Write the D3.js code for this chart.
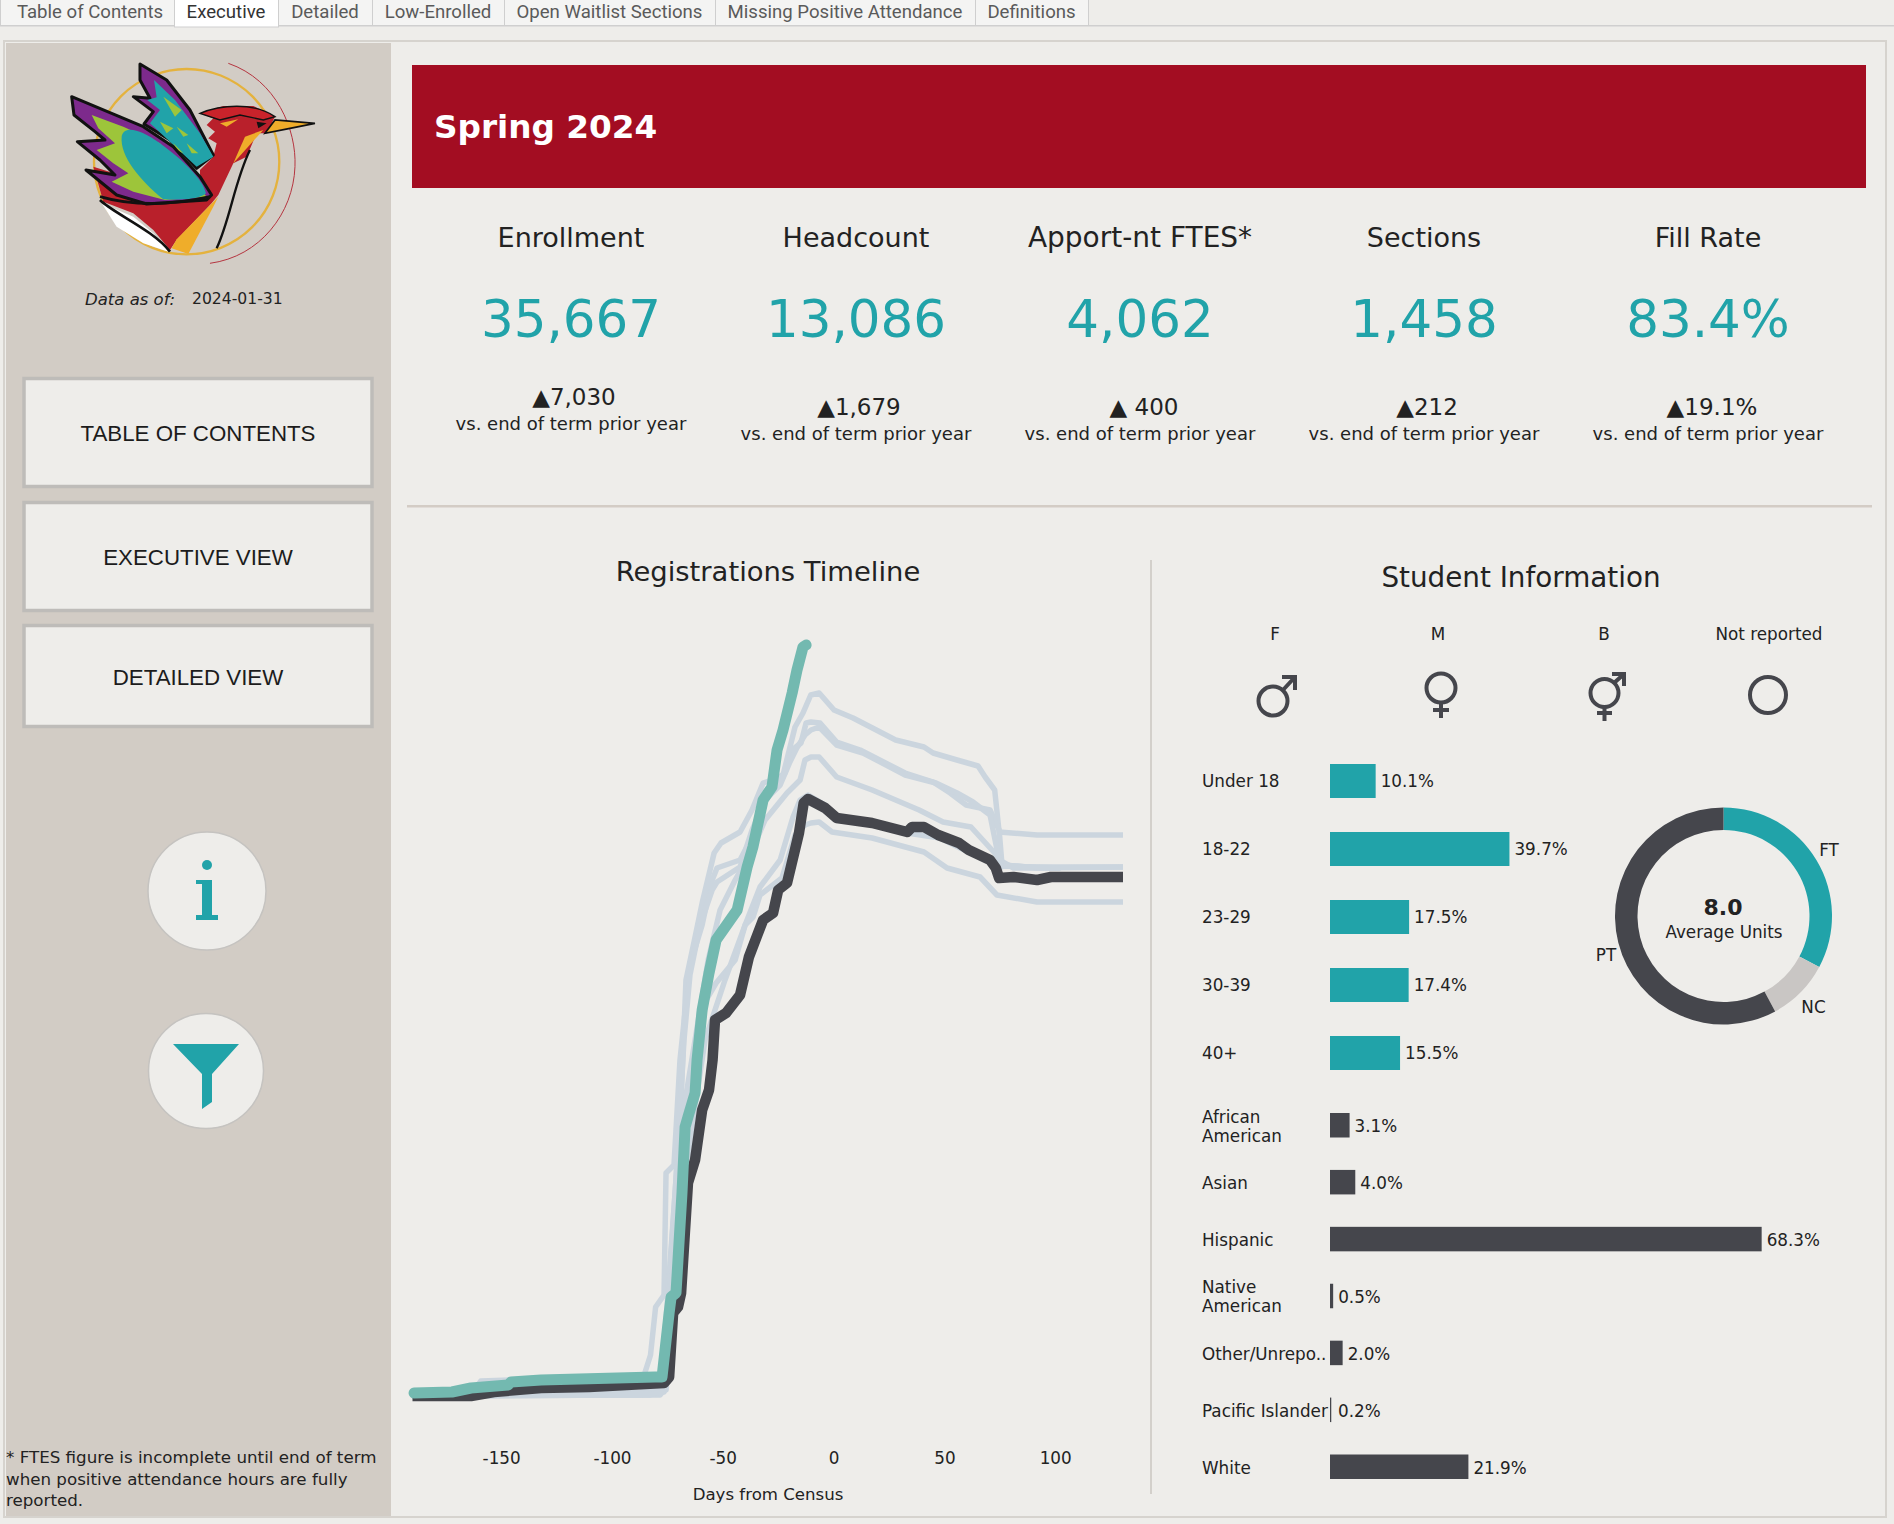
<!doctype html>
<html lang="en">
<head>
<meta charset="UTF-8">
<title>Spring 2024 Executive</title>
<style>
  body { margin: 0; background: #eeedea; }
  svg { display: block; }
  text { font-family: "DejaVu Sans", Verdana, sans-serif; fill: #222; dominant-baseline: central; }
  .tab { font-family: Roboto, sans-serif; font-size: 18.6px; fill: #5a5a5a; text-anchor: middle; }
  .btn { font-family: "Liberation Sans", Arial, sans-serif; font-size: 22.3px; fill: #1c1c1c; text-anchor: middle; }
  .lbl { font-size: 16.8px; }
  .tick text { font-family: "DejaVu Sans", Verdana, sans-serif; font-size: 16.8px; fill: #222; dominant-baseline: auto; }
</style>
</head>
<body>
<svg id="board" width="1894" height="1524"></svg>
<script src="https://d3js.org/d3.v7.min.js"></script>
<script>
var tabNames = ["Table of Contents", "Executive", "Detailed", "Low-Enrolled", "Open Waitlist Sections", "Missing Positive Attendance", "Definitions"];
var navNames = ["TABLE OF CONTENTS", "EXECUTIVE VIEW", "DETAILED VIEW"];
var footnote = ["* FTES figure is incomplete until end of term", "when positive attendance hours are fully", "reported."];

var kpiNames = ["Enrollment", "Headcount", "Apport-nt FTES*", "Sections", "Fill Rate"];
var kpiValues = ["35,667", "13,086", "4,062", "1,458", "83.4%"];
var kpiDeltas = ["▲7,030", "▲1,679", "▲ 400", "▲212", "▲19.1%"];

var genderNames = ["F", "M", "B", "Not reported"];

var ageNames = ["Under 18", "18-22", "23-29", "30-39", "40+"];
var agePct = [10.1, 39.7, 17.5, 17.4, 15.5];

var raceNames = ["African American", "Asian", "Hispanic", "Native American", "Other/Unrepo..", "Pacific Islander", "White"];
var racePct = [3.1, 4.0, 68.3, 0.5, 2.0, 0.2, 21.9];

var loadNames = ["FT", "NC", "PT"];
var loadShare = [32.8, 9.3, 57.9];

var dayTicks = [-150, -100, -50, 0, 50, 100];

// registrations by day from census, [day, registrations]
var regCurrent = [[-189.3,200],[-172.2,250],[-163.6,450],[-146.9,600],[-145.5,750],[-132,850],[-80.5,1000],[-77.4,1000],[-74.2,4200],[-73.3,5000],[-71.1,5200],[-70.2,6850],[-68.4,10200],[-67,13500],[-65.7,14000],[-62.5,15200],[-61.6,16850],[-59.3,19350],[-56.2,21200],[-53,22850],[-43.5,24350],[-39,26500],[-36.4,27500],[-31.8,29850],[-27.8,30500],[-25.5,32350],[-22.8,33350],[-18.7,35200],[-16.5,36350],[-13.8,37500],[-12.4,37600]];
var regPriorYear = [[-190,50],[-163.6,50],[-153.2,250],[-132,450],[-110.3,500],[-76.5,700],[-74.2,1000],[-72.4,4200],[-70.2,4500],[-68.8,5200],[-65.7,10700],[-62.5,11850],[-59.3,14350],[-56.2,15350],[-54.6,16850],[-53.5,18850],[-48.5,19200],[-42.2,20100],[-38.2,22000],[-31.8,23850],[-27.3,24200],[-25,25350],[-21,25700],[-15.6,28200],[-13.5,29700],[-11.5,29900],[-3.8,29450],[1.4,28950],[17.4,28700],[33.2,28250],[35.4,28500],[40.8,28500],[47.2,28100],[56.6,27700],[61,27350],[70.6,26850],[73.2,26450],[74.7,25950],[81.2,26000],[91.8,25850],[98.1,26000],[130.6,26000]];

var regOlderA = [[-190,50],[-163.8,100],[-159.2,800],[-85.6,1050],[-82.6,2100],[-80.3,4500],[-76.5,5100],[-75.6,11200],[-72,11600],[-69.3,16850],[-64.8,21600],[-59.3,23600],[-55.3,25700],[-52.6,26450],[-42.2,26850],[-35.9,28200],[-30.5,30200],[-22.8,31100],[-17.4,33500],[-13.8,34200],[-10.3,35100],[-6.5,35200],[0.2,34350],[8.8,33950],[28,32850],[40.8,32500],[44.9,32200],[55.7,31850],[65.2,31550],[68.4,31000],[72.7,30350],[74.7,28250],[91.8,28100],[130.6,28100]];
var regOlderB = [[-190,50],[-78.3,100],[-76.5,350],[-74.7,4850],[-72.9,7850],[-68.8,14850],[-66.6,20850],[-62.5,23000],[-59.3,24700],[-53.9,27200],[-50.8,27700],[-42.2,28250],[-36.8,29350],[-31.8,30700],[-25,30950],[-21.9,31200],[-18.7,32350],[-14.7,32700],[-12.4,33700],[-10.2,33750],[-6.1,33700],[1.4,32750],[12,32350],[32.3,31200],[44.9,30750],[52.6,30200],[59.8,29600],[70.6,29350],[74.7,28350],[76,26600],[87.7,26500],[130.6,26500]];
var regOlderC = [[-190,50],[-160.4,450],[-78.3,950],[-75.6,3850],[-71.1,10850],[-67.5,17850],[-64.8,21100],[-60.2,23600],[-54.8,25350],[-52.6,25750],[-42.2,26500],[-36.8,28350],[-30.9,29850],[-24.1,30600],[-19.7,31750],[-16.6,32450],[-12.9,33100],[-10.2,33350],[-6.5,33500],[1.4,32600],[13.3,32200],[32.3,31100],[46.2,30700],[55.7,30200],[62.9,29750],[70.6,29100],[74.7,26850],[81.2,26450],[102.5,26450]];
var regOlderD = [[-190,50],[-87.3,250],[-77.4,450],[-74.7,4350],[-68.4,13850],[-62.5,17850],[-56.6,21850],[-51.2,24350],[-44.4,25850],[-36.8,27350],[-30.9,28850],[-21,30200],[-15.1,30850],[-12.9,31850],[-10.2,32000],[-6.5,32000],[1.4,31000],[17.4,30350],[38.6,29350],[49.4,28750],[62,28500],[72.7,27200],[76.9,26600],[91.8,26450],[130.6,26500]];
var regOlderE = [[-190,50],[-87.3,100],[-76.5,250],[-73.8,4850],[-67,13350],[-61.6,16850],[-57.5,19850],[-53,20700],[-44.4,21850],[-39.9,23600],[-36.3,24000],[-33.2,25100],[-23.3,25950],[-17.4,28100],[-12.9,28600],[-10.2,28700],[-6.5,28750],[-0.7,28250],[17.4,27950],[40.8,27250],[51.2,26450],[66.1,26000],[73.7,25100],[91.8,24750],[130.6,24750]];
var regOlderF = [[-190,50],[-82.8,100],[-75.6,350],[-72.9,5350],[-64.8,12850],[-58,17850],[-49,20850],[-39.9,23600],[-33.2,25500],[-24.1,26850],[-18.3,29000],[-15.1,29850],[-11.5,30100],[-3.8,29600],[1.1,29050],[17.4,28750],[33.2,28200],[48,27950],[57.1,27450],[70.6,26750],[73.7,26350],[76.5,26550],[102.2,26450]];

// ---- palette ----
var teal = "#21a3a9", dark = "#45464c", sand = "#d2ccc5", paper = "#eeedea";

var svg = d3.select("#board");

svg.append("rect").attr("width", 1894).attr("height", 1524).attr("fill", paper);

// tab strip
var tabEdges = [0, 174, 278, 372, 504, 715, 975, 1088];
svg.append("rect").attr("width", 1894).attr("height", 26).attr("fill", paper);
svg.append("rect").attr("y", 25).attr("width", 1894).attr("height", 1.5).attr("fill", "#cfcfcf");
tabNames.forEach(function(name, i) {
	var x0 = tabEdges[i], x1 = tabEdges[i + 1];
	var active = name === "Executive";
	svg.append("rect")
		.attr("x", x0 + 0.5).attr("y", -1)
		.attr("width", x1 - x0).attr("height", active ? 28 : 26.5)
		.attr("fill", active ? "#ffffff" : "#f4f4f3")
		.attr("stroke", "#cfcfcf");
	svg.append("text").attr("class", "tab")
		.attr("x", i === 0 ? 90 : (x0 + x1) / 2).attr("y", 12)
		.style("fill", active ? "#333" : null)
		.text(name);
});

// outer frame and side panel
svg.append("rect").attr("x", 4).attr("y", 41).attr("width", 1882).attr("height", 1476)
	.attr("fill", paper).attr("stroke", "#d6d3ce").attr("stroke-width", 2);
svg.append("rect").attr("x", 6).attr("y", 43).attr("width", 385).attr("height", 1473).attr("fill", sand);

var logo = svg.append("g").attr("transform", "scale(0.3333)");
logo.append("circle").attr("cx", 560).attr("cy", 485).attr("r", 278)
	.attr("fill", "none").attr("stroke", "#e4b23e").attr("stroke-width", 7);
logo.append("path").attr("d", "M685,190 C830,240 890,390 885,500 C880,640 780,770 630,790")
	.attr("fill", "none").attr("stroke", "#b5343f").attr("stroke-width", 3);
logo.append("path").attr("d", "M600,340 L670,318 L760,318 L825,350 L800,400 L770,400 L740,470 L700,490 L655,585 L635,610 L530,720 L510,750 L460,690 L400,640 L310,605 L280,500 L600,600 L600,510 L640,470 L650,430 L625,415 L645,395 L620,375 L640,355 Z")
	.attr("fill", "#b9202b");
logo.append("path").attr("d", "M305,610 L400,650 L460,700 L505,755 L430,730 L350,680 Z").attr("fill", "#fff");
logo.append("path").attr("d", "M655,590 L640,620 L565,762 L515,745 L530,718 Z").attr("fill", "#efad2a");
logo.append("path").attr("d", "M750,450 C705,540 690,660 650,745").attr("fill", "none").attr("stroke", "#111").attr("stroke-width", 7);
logo.append("path").attr("d", "M790,390 L700,490 L735,410 Z").attr("fill", "#efad2a");
logo.append("path").attr("d", "M680,340 L750,330 L700,350 Z M660,370 L715,358 L680,380 Z").attr("fill", "#efad2a");
logo.append("path").attr("d", "M420,192 L500,240 L570,330 L640,465 L590,505 L510,420 L432,372 L460,335 L400,290 L450,295 L420,240 Z")
	.attr("fill", "#7d2a8c").attr("stroke", "#111").attr("stroke-width", 9).attr("stroke-linejoin", "round");
logo.append("path").attr("d", "M462,240 L525,300 L600,400 L640,470 L590,500 L510,425 L450,370 L480,330 L442,300 L470,292 Z").attr("fill", teal);
logo.append("path").attr("d", "M490,290 L545,330 L525,350 Z M480,365 L520,385 L500,400 Z M530,380 L565,405 L550,410 Z M520,430 L550,460 L530,450 Z M560,430 L595,460 L575,460 Z").attr("fill", "#9dc53a");
logo.append("path").attr("d", "M215,290 L430,380 L520,440 L600,530 L635,585 L620,600 L440,612 L350,585 L258,510 L345,525 L300,480 L232,425 L315,420 L285,395 L222,345 Z")
	.attr("fill", "#7d2a8c").attr("stroke", "#111").attr("stroke-width", 9).attr("stroke-linejoin", "round");
logo.append("path").attr("d", "M275,345 L370,380 L480,430 L620,590 L495,600 L400,575 L335,545 L385,520 L340,490 L290,450 L345,430 L295,385 Z").attr("fill", "#9dc53a");
logo.append("path").attr("d", "M365,410 C370,375 420,385 480,430 C550,480 610,540 618,580 C600,600 530,600 490,598 C420,540 360,470 365,410 Z").attr("fill", teal);
logo.append("path").attr("d", "M300,590 C420,625 540,610 630,590").attr("fill", "none").attr("stroke", "#111").attr("stroke-width", 9);
logo.append("path").attr("d", "M300,600 C340,640 460,690 510,755").attr("fill", "none").attr("stroke", "#111").attr("stroke-width", 8);
logo.append("path").attr("d", "M795,400 L825,360 L945,370 L870,385 Z").attr("fill", "#efad2a").attr("stroke", "#111").attr("stroke-width", 5);
logo.append("path").attr("d", "M600,340 C660,315 760,305 825,350 L790,360 L720,345 L660,360 Z").attr("fill", "#c9232b").attr("stroke", "#111").attr("stroke-width", 4);
logo.append("path").attr("d", "M800,370 L770,365 L775,385 Z").attr("fill", "#111");

svg.append("text").attr("x", 85).attr("y", 299).attr("font-size", 16.5).attr("font-style", "italic").text("Data as of:");
svg.append("text").attr("x", 192).attr("y", 299).attr("font-size", 15.6).text("2024-01-31");

// navigation buttons
var navTops = [377, 501, 624], navBottoms = [488, 612, 728];
navNames.forEach(function(name, i) {
	svg.append("rect").attr("x", 24).attr("y", navTops[i] + 1.5)
		.attr("width", 348).attr("height", navBottoms[i] - navTops[i] - 3)
		.attr("fill", paper).attr("stroke", "#bebcb9").attr("stroke-width", 3.5);
	svg.append("text").attr("class", "btn").attr("x", 198).attr("y", (navTops[i] + navBottoms[i]) / 2 + 1).text(name);
});

// info and filter icons
svg.append("circle").attr("cx", 207).attr("cy", 891).attr("r", 59).attr("fill", paper).attr("stroke", "#c5c3c0").attr("stroke-width", 1.5);
svg.append("ellipse").attr("cx", 207).attr("cy", 865).attr("rx", 5).attr("ry", 5).attr("fill", teal);
svg.append("path").attr("d", "M196,880 H212 V915 H218 V920 H196 V915 H202 V884 H196 Z").attr("fill", teal);
svg.append("circle").attr("cx", 206).attr("cy", 1071).attr("r", 57.5).attr("fill", paper).attr("stroke", "#c5c3c0").attr("stroke-width", 1.5);
svg.append("path").attr("d", "M173,1044 H239 L212,1074 V1102 L202,1109 V1074 Z").attr("fill", teal);

footnote.forEach(function(line, i) {
	svg.append("text").attr("x", 6).attr("y", 1457 + i * 21.5).attr("font-size", 16.7).text(line);
});

// banner
svg.append("rect").attr("x", 412).attr("y", 65).attr("width", 1454).attr("height", 123).attr("fill", "#a30d22");
svg.append("text").attr("x", 434).attr("y", 127).attr("font-size", 32.7).attr("font-weight", "bold").style("fill", "#fff").text("Spring 2024");

// KPI row
var kpiCenters = [571, 856, 1140, 1424, 1708];
var deltaNudge = [3, 3, 4, 3, 4];
var deltaY = [397, 407, 407, 407, 407];
kpiNames.forEach(function(name, i) {
	svg.append("text").attr("x", kpiCenters[i]).attr("y", 237).attr("text-anchor", "middle").attr("font-size", i === 2 ? 28 : 27).text(name);
	svg.append("text").attr("x", kpiCenters[i]).attr("y", 319).attr("text-anchor", "middle").attr("font-size", 51.5).style("fill", teal).text(kpiValues[i]);
	svg.append("text").attr("x", kpiCenters[i] + deltaNudge[i]).attr("y", deltaY[i]).attr("text-anchor", "middle").attr("font-size", 23).text(kpiDeltas[i]);
	svg.append("text").attr("x", kpiCenters[i]).attr("y", deltaY[i] + 26).attr("text-anchor", "middle").attr("font-size", 18).text("vs. end of term prior year");
});

// dividers
svg.append("rect").attr("x", 407).attr("y", 505).attr("width", 1465).attr("height", 2.5).attr("fill", "#d3ccc5");
svg.append("rect").attr("x", 1150).attr("y", 560).attr("width", 2).attr("height", 934).attr("fill", "#d3d0cb");

// timeline
svg.append("text").attr("x", 768).attr("y", 571).attr("text-anchor", "middle").attr("font-size", 27.4).text("Registrations Timeline");

var x = d3.scaleLinear().domain([-190, 130.6]).range([412.5, 1123]);
var y = d3.scaleLinear().domain([0, 37600]).range([1397, 645]);
var line = d3.line().x(function(d) { return x(d[0]); }).y(function(d) { return y(d[1]); });

var olderYears = [regOlderA, regOlderB, regOlderC, regOlderD, regOlderE, regOlderF];
svg.selectAll("path.older").data(olderYears).enter().append("path").attr("class", "older")
	.attr("d", line).attr("fill", "none").attr("stroke", "#cbd5de").attr("stroke-width", 5.5).attr("stroke-linejoin", "round");
svg.append("path").attr("d", line(regPriorYear)).attr("fill", "none").attr("stroke", dark).attr("stroke-width", 10.5).attr("stroke-linejoin", "round");
svg.append("path").attr("d", line(regCurrent)).attr("fill", "none").attr("stroke", "#73b9b0").attr("stroke-width", 11)
	.attr("stroke-linejoin", "round").attr("stroke-linecap", "round");

svg.append("g").attr("transform", "translate(0,1464)")
	.call(d3.axisBottom(x).tickValues(dayTicks).tickSize(0).tickPadding(0).tickFormat(String))
	.call(function(g) { g.select(".domain").remove(); g.selectAll(".tick text").attr("dy", 0); });
svg.append("text").attr("x", 768).attr("y", 1494).attr("text-anchor", "middle").attr("font-size", 16.6).text("Days from Census");

// student information
svg.append("text").attr("x", 1521).attr("y", 577).attr("text-anchor", "middle").attr("font-size", 27.8).text("Student Information");

var genderX = [1275, 1438, 1604, 1769];
genderNames.forEach(function(name, i) {
	svg.append("text").attr("x", genderX[i]).attr("y", 634).attr("text-anchor", "middle").attr("font-size", 16.8).text(name);
});
var glyph = svg.append("g").attr("fill", "none").attr("stroke", "#45464c").attr("stroke-width", 4).attr("transform", "translate(0,1)");
glyph.append("circle").attr("cx", 1273).attr("cy", 700).attr("r", 14.5);
glyph.append("path").attr("d", "M1283,689 L1295,676 M1282,676 H1295 V689");
glyph.append("circle").attr("cx", 1441).attr("cy", 687).attr("r", 14.5);
glyph.append("path").attr("d", "M1441,701 V717 M1433,709 H1449");
glyph.append("circle").attr("cx", 1604.5).attr("cy", 692).attr("r", 14);
glyph.append("path").attr("d", "M1604.5,706 V720 M1597,712 H1612 M1614,682 L1624,673 M1612,673 H1624 V685");
glyph.append("circle").attr("cx", 1768).attr("cy", 694).attr("r", 18);

// age bars
var ageY = d3.scalePoint().domain(ageNames).range([781, 1053]);
var ageX = d3.scaleLinear().domain([0, 40]).range([1330, 1510.8]);
svg.selectAll("rect.age").data(agePct).enter().append("rect").attr("class", "age")
	.attr("x", ageX(0))
	.attr("y", function(d, i) { return ageY(ageNames[i]) - 17; })
	.attr("width", function(d) { return ageX(d) - ageX(0); })
	.attr("height", 34).attr("fill", teal);
ageNames.forEach(function(name, i) {
	svg.append("text").attr("class", "lbl").attr("x", 1202).attr("y", ageY(name)).text(name);
	svg.append("text").attr("class", "lbl").attr("x", ageX(agePct[i]) + 5).attr("y", ageY(name)).text(agePct[i].toFixed(1) + "%");
});

// race / ethnicity bars
var raceY = d3.scalePoint().domain(raceNames).range([1125, 1466.5]);
var raceX = d3.scaleLinear().domain([0, 70]).range([1330, 1772.4]);
svg.selectAll("rect.race").data(racePct).enter().append("rect").attr("class", "race")
	.attr("x", raceX(0))
	.attr("y", function(d, i) { return raceY(raceNames[i]) - 12; })
	.attr("width", function(d) { return raceX(d) - raceX(0); })
	.attr("height", 24.5).attr("fill", dark);
raceNames.forEach(function(name, i) {
	var cy = raceY(name) + 1;
	if (name === "African American" || name === "Native American") {
		var parts = name.split(" ");
		svg.append("text").attr("class", "lbl").attr("x", 1202).attr("y", cy - 9.5).text(parts[0]);
		svg.append("text").attr("class", "lbl").attr("x", 1202).attr("y", cy + 9.5).text(parts[1]);
	} else {
		svg.append("text").attr("class", "lbl").attr("x", 1202).attr("y", cy).text(name);
	}
	svg.append("text").attr("class", "lbl").attr("x", Math.max(raceX(racePct[i]) + 5, 1338)).attr("y", cy).text(racePct[i].toFixed(1) + "%");
});

// units donut
var loadColors = [teal, "#c9c6c4", dark];
var pie = d3.pie().sort(null)(loadShare);
var arc = d3.arc().innerRadius(86).outerRadius(108.5);
svg.append("g").attr("transform", "translate(1723.5,916)").selectAll("path").data(pie).enter().append("path")
	.attr("d", arc).attr("fill", function(d, i) { return loadColors[i]; });
var loadLabelX = [1829, 1813.5, 1606], loadLabelY = [850, 1007, 955];
loadNames.forEach(function(name, i) {
	svg.append("text").attr("class", "lbl").attr("x", loadLabelX[i]).attr("y", loadLabelY[i]).attr("text-anchor", "middle").text(name);
});
svg.append("text").attr("x", 1723).attr("y", 907).attr("text-anchor", "middle").attr("font-size", 22).attr("font-weight", "bold").text("8.0");
svg.append("text").attr("x", 1724).attr("y", 932).attr("text-anchor", "middle").attr("font-size", 16.8).text("Average Units");
</script>
</body>
</html>
